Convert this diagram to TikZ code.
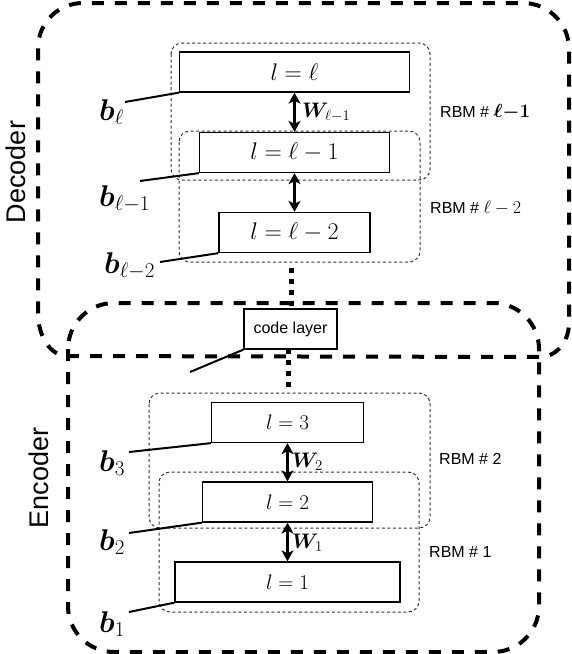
\RequirePackage{fix-cm}
\documentclass[tikz,border=0pt]{standalone}
\usepackage{amsmath}
\usepackage{bm}
\usepackage{fontspec}
\newfontfamily\arialf{Liberation Sans}
\usetikzlibrary{arrows.meta}
\begin{document}
\begin{tikzpicture}[x=1pt,y=-1pt,
 bigdash/.style={line width=4pt, dash pattern=on 12pt off 11pt},
 rbmbox/.style={draw=black!80, line width=1pt, dash pattern=on 3pt off 2.5pt, rounded corners=11pt},
 layerbox/.style={draw, fill=white, line width=1.3pt, minimum height=40pt, inner sep=0pt},
 dectxt/.style={font=\fontsize{24}{28}\selectfont},
 enctxt/.style={font=\fontsize{21}{25}\selectfont},
 codetxt/.style={font=\arialf\fontsize{16}{19}\selectfont},
 biaslbl/.style={anchor=base west, inner sep=0pt, font=\fontsize{30}{34}\selectfont},
 biasline/.style={line width=2pt},
 wlink/.style={line width=2.3pt, {Stealth[length=11pt,width=12pt,inset=3pt]}-{Stealth[length=11pt,width=12pt,inset=3pt]}},
 wlbl/.style={anchor=west, inner sep=0pt, font=\fontsize{21}{24}\selectfont},
 rbmlbl/.style={anchor=west, inner sep=0pt, font=\arialf\fontsize{16}{19}\selectfont},
 rbmmath/.style={font=\fontsize{19}{22}\selectfont},
 bigdots/.style={line width=5pt, dash pattern=on 5pt off 6pt},
 sidelbl/.style={rotate=90, anchor=base, inner sep=0pt, font=\arialf\fontsize{27}{30}\selectfont}
]
\useasboundingbox (0,0) rectangle (572,654);

% Decoder region
\draw[bigdash] (67,356) -- (540,357) .. controls (556,357) and (569,342) .. (569,323)
  -- (569,49) .. controls (569,23.6) and (548.4,3) .. (523,3)
  -- (83,3) .. controls (58.1,3) and (38,22.9) .. (38,48)
  -- (38,313) .. controls (38,337) and (51,356) .. (67,356);
% Encoder region
\draw[bigdash, rounded corners=46pt] (68,303) rectangle (539,652);

\node[sidelbl] (dec) at (25,172) {Decoder};
\node[sidelbl] (enc) at (48,478) {Encoder};

% RBM groups
\draw[rbmbox] (171,43) rectangle (430,180);
\draw[rbmbox] (179,131) rectangle (420,262);
\draw[rbmbox] (149,393) rectangle (430,528);
\draw[rbmbox] (159,472) rectangle (419,612);

% layers (decoder)
\node[layerbox, dectxt, minimum width=230pt] (Ll)   at (294.5,72)  {$l=\ell$};
\node[layerbox, dectxt, minimum width=190pt] (Llm1) at (294.5,152.5) {$l=\ell-1$};
\node[layerbox, dectxt, minimum width=151pt] (Llm2) at (294.5,232.5) {$l=\ell-2$};
% code layer
\node[layerbox, codetxt, minimum width=93pt] (code) at (290.5,329) {code layer};
% layers (encoder)
\node[layerbox, enctxt, minimum width=152pt] (E3) at (287.5,422.5) {$l=3$};
\node[layerbox, enctxt, minimum width=170pt] (E2) at (287.5,502)   {$l=2$};
\node[layerbox, enctxt, minimum width=225pt] (E1) at (287.5,582)   {$l=1$};

% weight links
\draw[wlink] (Ll.south) -- (Llm1.north);
\draw[wlink] (Llm1.south) -- (Llm2.north);
\draw[wlink] (E3.south) -- (E2.north);
\draw[wlink] (E2.south) -- (E1.north);
\node[wlbl] (wl) at (302,112) {$\bm{W}_{\ell-1}$};
\node[wlbl] (w2) at (292,462) {$\bm{W}_{2}$};
\node[wlbl] (w1) at (292,543) {$\bm{W}_{1}$};

% RBM labels
\node[rbmlbl] (r1) at (440,112) {RBM \# {\fontsize{19}{22}\selectfont$\bm{\ell{-}1}$}};
\node[rbmlbl] (r2) at (430,208) {RBM \# {\fontsize{18}{22}\selectfont$\ell-2$}};
\node[rbmlbl] (r3) at (439,459) {RBM \# 2};
\node[rbmlbl] (r4) at (429,552) {RBM \# 1};

% bias lines and labels
\coordinate (pl)  at (125,102);
\coordinate (pl1) at (140,181);
\coordinate (pl2) at (160,262);
\coordinate (pc)  at (190,372);
\coordinate (p3)  at (129,452);
\coordinate (p2)  at (129,533);
\coordinate (p1)  at (129,612);
\draw[biasline] (pl) -- (Ll.south west);
\draw[biasline] (pl1) -- (Llm1.south west);
\draw[biasline] (pl2) -- (Llm2.south west);
\draw[biasline] (pc) -- (code.south west);
\draw[biasline] (p3) -- (E3.south west);
\draw[biasline] (p2) -- (E2.south west);
\draw[biasline] (p1) -- (E1.south west);
\node[biaslbl] (bl)  at (99,120) {$\bm{b}_{\ell}$};
\node[biaslbl] (bl1) at (99,206) {$\bm{b}_{\ell-1}$};
\node[biaslbl] (bl2) at (104,273) {$\bm{b}_{\ell-2}$};
\node[biaslbl] (b3)  at (99,471) {$\bm{b}_{3}$};
\node[biaslbl] (b2)  at (99,550) {$\bm{b}_{2}$};
\node[biaslbl] (b1)  at (99,632) {$\bm{b}_{1}$};

% thick dotted continuation lines
\coordinate (d1a) at (291,268);
\coordinate (d1b) at (291,306);
\coordinate (d2a) at (288,349);
\coordinate (d2b) at (288,387);
\draw[bigdots] (d1a) -- (d1b);
\draw[bigdots] (d2a) -- (d2b);
\end{tikzpicture}
\end{document}
